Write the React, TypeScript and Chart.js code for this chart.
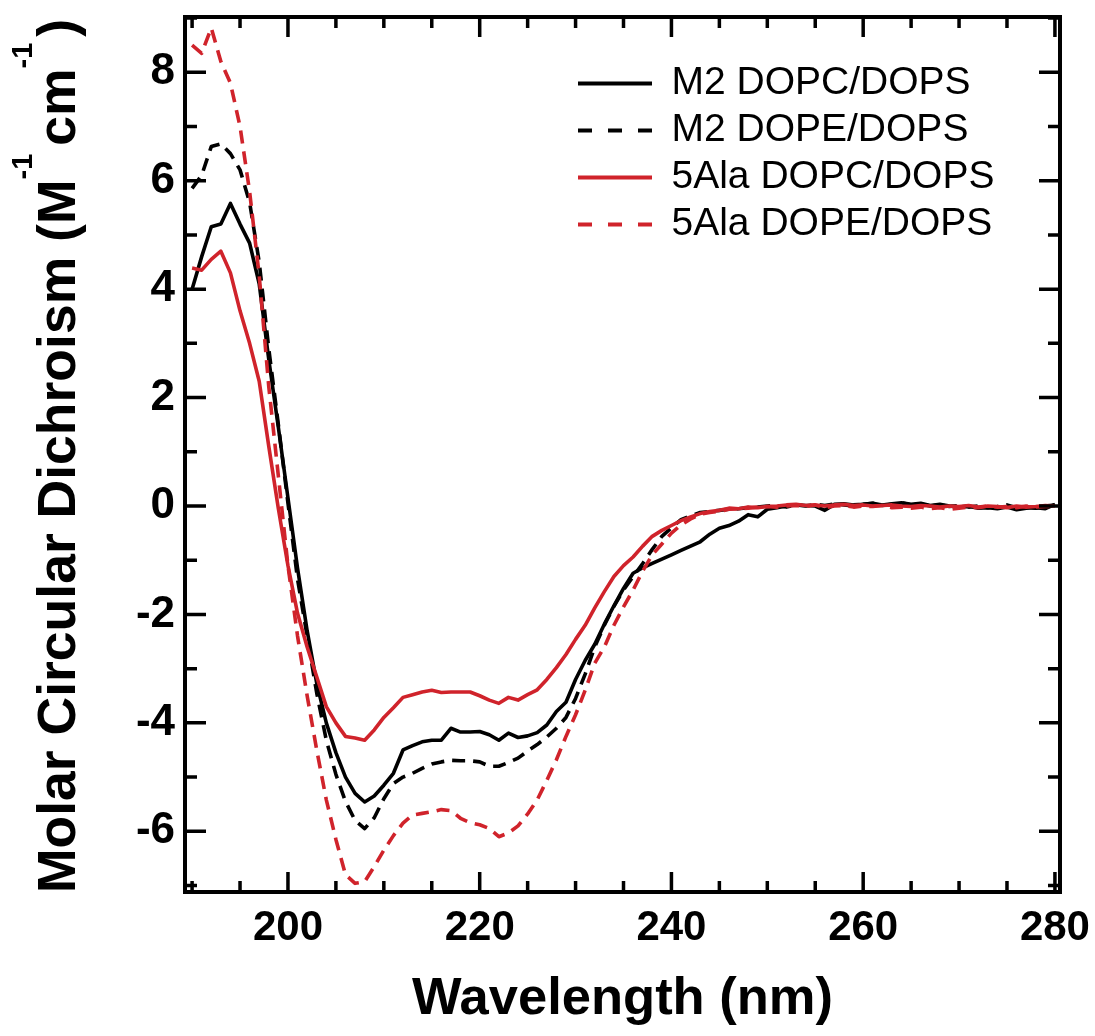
import React, { useEffect, useRef } from "react";
import { Chart, registerables } from "chart.js";

Chart.register(...registerables);

// Wavelength (nm)
const wavelengths = [
  190, 191, 192, 193, 194, 195, 196, 197, 198, 199,
  200, 201, 202, 203, 204, 205, 206, 207, 208, 209,
  210, 211, 212, 213, 214, 215, 216, 217, 218, 219,
  220, 221, 222, 223, 224, 225, 226, 227, 228, 229,
  230, 231, 232, 233, 234, 235, 236, 237, 238, 239,
  240, 241, 242, 243, 244, 245, 246, 247, 248, 249,
  250, 251, 252, 253, 254, 255, 256, 257, 258, 259,
  260, 261, 262, 263, 264, 265, 266, 267, 268, 269,
  270, 271, 272, 273, 274, 275, 276, 277, 278, 279,
  280,
];

// M2 DOPC/DOPS
const m2DopcDops = [
  4.0, 4.6, 5.15, 5.2, 5.58, 5.2, 4.85, 4.1, 2.7, 1.45,
  0.15, -1.15, -2.3, -3.27, -4.0, -4.55, -5.0, -5.3, -5.46, -5.35,
  -5.15, -4.93, -4.5, -4.42, -4.35, -4.32, -4.32, -4.1, -4.17, -4.17,
  -4.16, -4.22, -4.32, -4.19, -4.27, -4.24, -4.18, -4.04, -3.79, -3.62,
  -3.2, -2.85, -2.55, -2.18, -1.84, -1.52, -1.24, -1.14, -1.06, -0.98,
  -0.9, -0.82, -0.74, -0.66, -0.52, -0.41, -0.36, -0.28, -0.16, -0.2,
  -0.06, -0.03, 0.0, 0.02, 0.01, 0.0, -0.08, 0.03, 0.04, 0.02,
  0.03, 0.05, 0.02, 0.04, 0.06, 0.03, 0.05, 0.01, 0.03, 0.0,
  -0.02, 0.0, -0.04, -0.03, -0.05, -0.02, -0.07, -0.04, -0.03, -0.05,
  0.03,
];

// M2 DOPE/DOPS
const m2DopeDops = [
  5.86, 6.1, 6.63, 6.68, 6.5, 6.2, 5.6, 4.5, 2.9, 1.5,
  0.05, -1.35, -2.4, -3.45, -4.32, -4.95, -5.45, -5.8, -5.95, -5.75,
  -5.4, -5.12, -5.0, -4.93, -4.84, -4.76, -4.72, -4.69, -4.7, -4.7,
  -4.72, -4.8, -4.8, -4.73, -4.65, -4.52, -4.4, -4.26, -4.1, -3.9,
  -3.55, -3.1, -2.6, -2.2, -1.85, -1.55, -1.3, -1.06, -0.8, -0.56,
  -0.4, -0.25, -0.18, -0.12, -0.1, -0.08, -0.06, -0.05, -0.03, -0.02,
  0.0, 0.01, -0.02, 0.02, 0.0, 0.03, 0.01, 0.04, 0.02, 0.0,
  0.03, 0.05, 0.01, 0.03, 0.06, 0.02, 0.04, 0.0, 0.02, -0.01,
  0.01, -0.02, 0.0, -0.03, -0.01, 0.02, -0.03, -0.01, -0.04, 0.0,
  0.02,
];

// 5Ala DOPC/DOPS
const ala5DopcDops = [
  4.39, 4.35, 4.55, 4.7, 4.3, 3.6, 3.0, 2.3, 1.1, -0.05,
  -1.1, -1.98, -2.6, -3.15, -3.7, -4.0, -4.25, -4.28, -4.32, -4.13,
  -3.9, -3.72, -3.53, -3.48, -3.43, -3.4, -3.44, -3.43, -3.43, -3.43,
  -3.5, -3.58, -3.64, -3.53, -3.58, -3.48, -3.39, -3.2, -2.98, -2.74,
  -2.46, -2.2, -1.88, -1.58, -1.3, -1.1, -0.94, -0.74, -0.56, -0.45,
  -0.36, -0.27, -0.2, -0.14, -0.1, -0.08, -0.04, -0.05, -0.02, -0.03,
  -0.01, 0.0, 0.02, 0.03, 0.01, 0.02, 0.0, 0.02, 0.03, 0.01,
  0.02, 0.0, 0.01, 0.02, 0.0, -0.01, 0.01, 0.0, -0.02, 0.0,
  -0.01, 0.01, -0.02, 0.0, -0.01, -0.03, 0.0, -0.02, -0.01, 0.01,
  0.0,
];

// 5Ala DOPE/DOPS
const ala5DopeDops = [
  8.5, 8.35, 8.82, 8.2, 7.8, 7.0, 5.8, 4.25, 2.2, 0.55,
  -1.1, -2.4, -3.5, -4.5, -5.42, -6.15, -6.8, -6.96, -6.93, -6.65,
  -6.35, -6.08, -5.85, -5.7, -5.67, -5.64, -5.6, -5.62, -5.76, -5.84,
  -5.88, -5.95, -6.1, -6.03, -5.9, -5.68, -5.42, -5.06, -4.68, -4.25,
  -3.85, -3.4, -2.9, -2.6, -2.2, -1.86, -1.55, -1.2, -0.9, -0.7,
  -0.5, -0.35, -0.24, -0.15, -0.12, -0.1, -0.06, -0.05, -0.04, -0.02,
  -0.01, -0.02, 0.0, 0.01, -0.01, 0.02, -0.03, 0.0, 0.01, -0.02,
  0.0, -0.01, 0.01, -0.03, -0.02, -0.04, -0.02, -0.05, -0.03, -0.06,
  -0.04, -0.02, -0.03, 0.0, -0.02, -0.01, -0.03, 0.0, -0.02, -0.01,
  0.0,
];

const seriesLabels = ["M2 DOPC/DOPS", "M2 DOPE/DOPS", "5Ala DOPC/DOPS", "5Ala DOPE/DOPS"];

const xTickValues = [200, 220, 240, 260, 280];
const yTickValues = [-6, -4, -2, 0, 2, 4, 6, 8];
const xMarkValues = [190, 195, 200, 205, 210, 215, 220, 225, 230, 235, 240, 245, 250, 255, 260, 265, 270, 275, 280];
const yMarkValues = [-7, -6, -5, -4, -3, -2, -1, 0, 1, 2, 3, 4, 5, 6, 7, 8, 9];

const xTitle = "Wavelength (nm)";
const yTitleParts = [
  { text: "Molar Circular Dichroism (M", sup: false, gap: 0 },
  { text: "-1", sup: true, gap: 0 },
  { text: "cm", sup: false, gap: 8 },
  { text: "-1", sup: true, gap: 0 },
  { text: ")", sup: false, gap: 6 },
];

const RED = "#d0232b";
const FONT = "'Liberation Sans', Arial, Helvetica, sans-serif";
const DASH = [13, 8];
const LEGEND_DASH = [14, 16];

const framePlugin = {
  id: "cdFrame",
  afterLayout(chart: any) {
    const lg = chart.legend;
    if (lg) {
      const w = lg.width;
      const h = lg.height;
      lg.left = 570;
      lg.right = 570 + w;
      lg.top = 56;
      lg.bottom = 56 + h;
    }
  },
  afterDraw(chart: any) {
    const { ctx, chartArea: a, scales } = chart;
    const xs = scales.x;
    const ys = scales.y;
    ctx.save();
    ctx.strokeStyle = "#000";
    ctx.lineCap = "butt";
    ctx.lineWidth = 3.5;
    for (const v of xMarkValues) {
      const px = xs.getPixelForValue(v);
      const len = xTickValues.includes(v) ? 20 : 11;
      ctx.beginPath();
      ctx.moveTo(px, a.bottom);
      ctx.lineTo(px, a.bottom - len);
      ctx.moveTo(px, a.top);
      ctx.lineTo(px, a.top + len);
      ctx.stroke();
    }
    for (const v of yMarkValues) {
      const py = ys.getPixelForValue(v);
      const len = yTickValues.includes(v) ? 21 : 12;
      ctx.beginPath();
      ctx.moveTo(a.left, py);
      ctx.lineTo(a.left + len, py);
      ctx.moveTo(a.right, py);
      ctx.lineTo(a.right - len, py);
      ctx.stroke();
    }
    ctx.lineWidth = 4;
    ctx.strokeRect(a.left, a.top, a.right - a.left, a.bottom - a.top);

    // y axis title with superscripts
    ctx.fillStyle = "#000";
    ctx.textBaseline = "alphabetic";
    ctx.textAlign = "left";
    ctx.translate(75, a.bottom + 1);
    ctx.rotate(-Math.PI / 2);
    let x = 0;
    for (const p of yTitleParts) {
      x += p.gap;
      ctx.font = p.sup ? `bold 29px ${FONT}` : `bold 53.5px ${FONT}`;
      ctx.fillText(p.text, x, p.sup ? -43 : 0);
      x += ctx.measureText(p.text).width;
    }
    ctx.restore();
  },
};

export default function App() {
  const ref = useRef<HTMLCanvasElement>(null);

  useEffect(() => {
    const mk = (vals: number[]) => wavelengths.map((w, i) => ({ x: w, y: vals[i] }));
    const chart = new Chart(ref.current as HTMLCanvasElement, {
      type: "line",
      data: {
        datasets: [
          {
            label: seriesLabels[0],
            data: mk(m2DopcDops),
            borderColor: "#000",
            backgroundColor: "#000",
            borderWidth: 3.6,
            pointRadius: 0,
            order: 4,
          },
          {
            label: seriesLabels[1],
            data: mk(m2DopeDops),
            borderColor: "#000",
            backgroundColor: "#000",
            borderWidth: 3.6,
            borderDash: DASH,
            pointRadius: 0,
            order: 3,
          },
          {
            label: seriesLabels[2],
            data: mk(ala5DopcDops),
            borderColor: RED,
            backgroundColor: RED,
            borderWidth: 3.6,
            pointRadius: 0,
            order: 2,
          },
          {
            label: seriesLabels[3],
            data: mk(ala5DopeDops),
            borderColor: RED,
            backgroundColor: RED,
            borderWidth: 3.6,
            borderDash: DASH,
            pointRadius: 0,
            order: 1,
          },
        ],
      },
      options: {
        animation: false,
        responsive: false,
        devicePixelRatio: 1,
        layout: { padding: { left: 0, top: 17, right: 35, bottom: 0 } },
        elements: { line: { tension: 0, borderJoinStyle: "round" } },
        plugins: {
          tooltip: { enabled: false },
          legend: {
            display: true,
            position: "chartArea",
            align: "start",
            labels: {
              usePointStyle: true,
              pointStyle: "line",
              pointStyleWidth: 74,
              padding: 8,
              color: "#000",
              font: { family: FONT, size: 39, weight: "normal" },
              sort: (a: any, b: any) => a.datasetIndex - b.datasetIndex,
              generateLabels: (chart: any) => {
                const items = (Chart as any).defaults.plugins.legend.labels.generateLabels(chart);
                items.forEach((it: any) => {
                  const ds = chart.data.datasets[it.datasetIndex];
                  it.lineDash = ds.borderDash ? LEGEND_DASH : [];
                  it.lineWidth = 4;
                  it.strokeStyle = ds.borderColor;
                  it.fillStyle = ds.borderColor;
                  it.pointStyle = "line";
                });
                return items;
              },
            },
          },
        },
        scales: {
          x: {
            type: "linear",
            min: 189.26,
            max: 280.53,
            grid: { display: false, drawTicks: false },
            border: { display: false },
            afterBuildTicks: (s: any) => {
              s.ticks = xTickValues.map((v) => ({ value: v }));
            },
            afterFit: (s: any) => {
              s.height = 144;
              s.paddingLeft = 0;
              s.paddingRight = 0;
              s.paddingTop = 0;
              s.paddingBottom = 0;
            },
            ticks: {
              autoSkip: false,
              maxRotation: 0,
              padding: 11,
              color: "#000",
              font: { family: FONT, size: 42, weight: "bold" },
              callback: (v: any) => String(v),
            },
            title: {
              display: true,
              text: xTitle,
              color: "#000",
              font: { family: FONT, size: 52.5, weight: "bold" },
              padding: { top: 0, bottom: 5 },
            },
          },
          y: {
            type: "linear",
            min: -7.12,
            max: 9.02,
            grid: { display: false, drawTicks: false },
            border: { display: false },
            afterBuildTicks: (s: any) => {
              s.ticks = yTickValues.map((v) => ({ value: v }));
            },
            afterFit: (s: any) => {
              s.width = 185;
              s.paddingLeft = 0;
              s.paddingRight = 0;
              s.paddingTop = 0;
              s.paddingBottom = 0;
            },
            ticks: {
              autoSkip: false,
              padding: 10,
              color: "#000",
              font: { family: FONT, size: 44, weight: "bold" },
              callback: (v: any) => String(v),
            },
          },
        },
      } as any,
      plugins: [framePlugin],
    });
    return () => chart.destroy();
  }, []);

  return (
    <div style={{ position: "fixed", left: 0, top: 0, width: 1095, height: 1036, background: "#fff" }}>
      <canvas ref={ref} width={1095} height={1036} style={{ display: "block", width: 1095, height: 1036 }} />
    </div>
  );
}
